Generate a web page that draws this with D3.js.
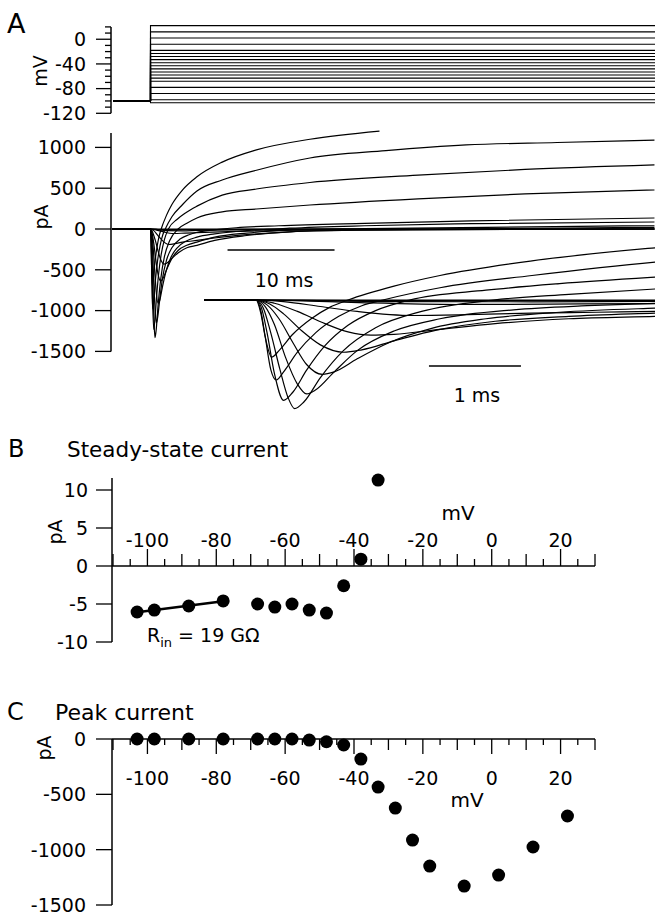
<!DOCTYPE html>
<html><head><meta charset="utf-8">
<script src="https://cdn.jsdelivr.net/npm/d3@7"></script>
<style>
body{margin:0;background:#fff}
svg{display:block}
text{font-family:"DejaVu Sans",Verdana,sans-serif;fill:#000}
</style>
</head><body>
<svg id="c" width="655" height="915"></svg>
<script>
// ---------------- DATA ----------------
// Voltage steps (mV) used in the protocol and in panel C
const stepVoltages = [-103,-98,-88,-78,-68,-63,-58,-53,-48,-43,-38,-33,-28,-23,-18,-8,2,12,22];
const holdingVoltage = -100;
// Panel C: peak current (pA) at each step voltage
const peakCurrent = [0,0,0,0,0,0,0,-10,-25,-54,-181,-434,-624,-913,-1148,-1329,-1230,-976,-696];
// Panel B: steady-state current (pA)
const steadyVoltages = [-103,-98,-88,-78,-68,-63,-58,-53,-48,-43,-38,-33];
const steadyCurrent = [-6.05,-5.8,-5.26,-4.6,-5.0,-5.4,-5.0,-5.8,-6.2,-2.6,0.9,11.3];
const fitVoltages = [-103,-98,-88,-78];   // points used for the R_in fit line

// Tick labels
const vTickLabels = [0,-40,-80,-120];
const iTickLabels = [1000,500,0,-500,-1000,-1500];
const bYTicks = [10,5,0,-5,-10];
const cYTicks = [0,-500,-1000,-1500];
const ivXTickLabels = [-100,-80,-60,-40,-20,0,20];

// Current traces: [time (ms), current (pA)]
const traceFlat   = [[-3.6,0],[47.1,0]];
const trace_m53 = [[-3.6,0],[0,0],[1,-8],[5,-6],[15,-2],[47.1,0]];
const trace_m48 = [[-3.6,0],[0,0],[0.5,-5],[1.5,-20],[3,-22],[4.34,-18],[8,-10],[15,-3],[47.1,0]];
const trace_m43 = [[-3.6,0],[0,0],[0.5,-10],[1.2,-35],[2.2,-55],[3.2,-50],[4.34,-45],[8,-30],[15,-10],[47.1,0]];
const trace_m38 = [[-3.6,0],[0,0],[0.3,-20],[0.7,-80],[1.1,-140],[1.7,-190],[2.3,-180],[3.0,-160],[3.7,-150],[4.34,-140],[6,-110],[9,-70],[13,-35],[20,-15],[47.1,0]];
const trace_m33 = [[-3.6,0],[0,0],[0.2,-40],[0.45,-140],[0.75,-290],[1.0,-390],[1.25,-430],[1.5,-420],[2.0,-360],[2.6,-290],[3.4,-230],[4.34,-200],[6,-140],[9,-80],[13,-35],[20,-10],[47.1,20]];
const trace_m28 = [[-3.6,0],[0,0],[0.15,-50],[0.3,-170],[0.5,-380],[0.7,-550],[0.95,-640],[1.15,-610],[1.5,-500],[2.0,-360],[2.6,-260],[3.4,-200],[4.34,-160],[6,-100],[9,-50],[13,-15],[20,5],[47.1,40]];
const trace_m23 = [[-3.6,0],[0,0],[0.12,-60],[0.25,-230],[0.4,-520],[0.55,-790],[0.72,-910],[0.85,-880],[1.1,-720],[1.45,-520],[1.9,-350],[2.5,-230],[3.3,-150],[4.34,-100],[6,-60],[9,-20],[13,10],[20,40],[30,65],[47.1,86]];
const trace_m18 = [[-3.6,0],[0,0],[0.1,-80],[0.2,-300],[0.32,-700],[0.45,-1030],[0.55,-1150],[0.65,-1100],[0.85,-880],[1.1,-620],[1.5,-380],[2.0,-230],[2.8,-120],[3.6,-70],[4.34,-40],[6,-10],[8,15],[12,40],[20,70],[30,100],[47.1,135]];
const trace_m8  = [[-3.6,0],[0,0],[0.08,-100],[0.16,-400],[0.26,-850],[0.35,-1200],[0.42,-1330],[0.52,-1250],[0.7,-950],[0.95,-620],[1.3,-340],[1.8,-140],[2.58,0],[3.4,70],[4.34,135],[6.7,210],[9.9,245],[14.9,294],[25,370],[35,430],[47.1,478]];
const trace_p2  = [[-3.6,0],[0,0],[0.06,-100],[0.12,-400],[0.2,-900],[0.3,-1230],[0.4,-1130],[0.55,-860],[0.75,-560],[1.0,-310],[1.3,-130],[1.67,0],[2.5,120],[3.3,200],[4.34,280],[6.7,415],[9.9,490],[14.9,570],[25,660],[35,730],[47.1,785]];
const trace_p12 = [[-3.6,0],[0,0],[0.05,-120],[0.1,-450],[0.16,-850],[0.22,-980],[0.3,-880],[0.45,-640],[0.65,-400],[0.9,-200],[1.15,-70],[1.38,0],[2,150],[3,300],[4.34,465],[6.7,600],[9.9,720],[14.9,870],[22,960],[29.5,1030],[38,1060],[47.1,1090]];
const trace_p22 = [[-3.6,0],[0,0],[0.05,-150],[0.1,-450],[0.17,-700],[0.25,-620],[0.4,-420],[0.6,-230],[0.8,-90],[1.0,0],[1.5,170],[2.0,300],[3.0,480],[4.34,640],[6.7,820],[9.9,970],[14.9,1100],[21.4,1200]];

const currentTraces = [traceFlat, trace_m53, trace_m48, trace_m43, trace_m38, trace_m33, trace_m28,
  trace_m23, trace_m18, trace_m8, trace_p2, trace_p12, trace_p22];

// ---------------- DRAWING ----------------
const svg = d3.select('#c');
const W = 655;
const axisX = 111;

// Panel A scales
const tMain = d3.scaleLinear().domain([0, 10]).range([150.5, 257.5]);
const vY = d3.scaleLinear().domain([-120, 20]).range([113.3, 26.9]);
const iY = d3.scaleLinear().domain([-1500, 1000]).range([351.4, 147.4]);
const tIns = d3.scaleLinear().domain([0, 1]).range([256, 348]);
const iInsY = d3.scaleLinear().domain([0, -1350]).range([300, 410.2]);

function txt(g, x, y, s, size, anchor) {
  return g.append('text').attr('x', x).attr('y', y).attr('font-size', size)
    .attr('text-anchor', anchor || 'start').text(s);
}
function rotTxt(g, x, y, s, size) {
  return g.append('text').attr('transform', `translate(${x},${y}) rotate(-90)`)
    .attr('font-size', size).attr('text-anchor', 'middle').text(s);
}
function ln(g, x1, y1, x2, y2, w) {
  return g.append('line').attr('x1', x1).attr('y1', y1).attr('x2', x2).attr('y2', y2)
    .attr('stroke', '#000').attr('stroke-width', w || 1.5);
}

// ---- Panel A: voltage protocol ----
const gA = svg.append('g');
txt(gA, 7, 33, 'A', 27);
ln(gA, axisX, vY(-120), axisX, vY(20));
d3.range(-120, 21, 10).forEach(v => {
  const major = v % 40 === 0;
  ln(gA, axisX - (major ? 15 : 6), vY(v), axisX, vY(v), 1.3);
});
vTickLabels.forEach(v => txt(gA, 86, vY(v), String(v), 19, 'end').attr('dy', '0.36em'));
rotTxt(gA, 47, 71, 'mV', 19);

const vLine = v => `M${axisX + 2},${vY(holdingVoltage)}H${tMain(0)}V${vY(v)}H${W}`;
gA.selectAll('path.v').data(stepVoltages).enter().append('path')
  .attr('d', vLine).attr('fill', 'none').attr('stroke', '#000').attr('stroke-width', 1.1);

// ---- Panel A: current traces ----
ln(gA, axisX, iY(-1500), axisX, 133);
iTickLabels.forEach(v => {
  ln(gA, axisX - 16, iY(v), axisX, iY(v), 1.3);
  txt(gA, 86, iY(v), String(v), 19, 'end').attr('dy', '0.36em');
});
rotTxt(gA, 48, 217, 'pA', 19);

const mainLine = d3.line().x(d => tMain(d[0])).y(d => iY(d[1])).curve(d3.curveMonotoneX);
gA.selectAll('path.m').data(currentTraces).enter().append('path')
  .attr('d', mainLine).attr('fill', 'none').attr('stroke', '#000').attr('stroke-width', 1.2);

// 10 ms scale bar
const barY = iY(-258);
ln(gA, tMain(7.2), barY, tMain(17.2), barY, 1.6);
txt(gA, (tMain(7.2) + tMain(17.2)) / 2 + 3, 287, '10 ms', 19, 'middle');

// ---- Inset: expanded time scale ----
svg.append('clipPath').attr('id', 'insClip').append('rect')
  .attr('x', 204).attr('y', 0).attr('width', W - 204).attr('height', 915);
const insLine = d3.line().x(d => tIns(d[0])).y(d => iInsY(d[1])).curve(d3.curveMonotoneX);
gA.append('g').attr('clip-path', 'url(#insClip)')
  .selectAll('path').data(currentTraces).enter().append('path')
  .attr('d', insLine).attr('fill', 'none').attr('stroke', '#000').attr('stroke-width', 1.2);
const bar2Y = iInsY(-809);
ln(gA, tIns(1.88), bar2Y, tIns(2.88), bar2Y, 1.6);
txt(gA, (tIns(1.88) + tIns(2.88)) / 2 + 2, 402, '1 ms', 19, 'middle');

// ---- Panel B ----
const gB = svg.append('g');
const xIV = d3.scaleLinear().domain([-110, 30]).range([113, 595]);
const yB = d3.scaleLinear().domain([-10, 10]).range([642, 490]);
txt(gB, 8, 457, 'B', 24);
txt(gB, 67, 457, 'Steady-state current', 21.5);
ln(gB, 112, yB(-10), 112, 478);
bYTicks.forEach(v => {
  ln(gB, 96, yB(v), 112, yB(v), 1.3);
  txt(gB, 88, yB(v), String(v), 19, 'end').attr('dy', '0.36em');
});
rotTxt(gB, 62, 532, 'pA', 19);
ln(gB, 112, yB(0), xIV(30), yB(0));
d3.range(-110, 31, 5).forEach(v => {
  const len = v % 20 === 0 ? 17 : (v % 10 === 0 ? 12 : 7);
  ln(gB, xIV(v), yB(0), xIV(v), yB(0) - len, 1.3);
});
ivXTickLabels.forEach(v => txt(gB, xIV(v), 547, String(v), 19, 'middle'));
txt(gB, 458, 520, 'mV', 20, 'middle');

// fit line (least squares through the fit points)
const fitPts = fitVoltages.map(v => [v, steadyCurrent[steadyVoltages.indexOf(v)]]);
const mx = d3.mean(fitPts, d => d[0]), my = d3.mean(fitPts, d => d[1]);
const slope = d3.sum(fitPts, d => (d[0] - mx) * (d[1] - my)) / d3.sum(fitPts, d => (d[0] - mx) ** 2);
const fx = v => my + slope * (v - mx);
const v0 = fitVoltages[0], v1 = fitVoltages[fitVoltages.length - 1];
ln(gB, xIV(v0), yB(fx(v0)), xIV(v1), yB(fx(v1)), 2.6);

gB.selectAll('circle').data(steadyVoltages).enter().append('circle')
  .attr('cx', d => xIV(d)).attr('cy', (d, i) => yB(steadyCurrent[i])).attr('r', 6.5).attr('fill', '#000');

const rin = gB.append('text').attr('x', 147).attr('y', 642).attr('font-size', 19);
rin.append('tspan').text('R');
rin.append('tspan').attr('font-size', 13).attr('dy', 5).text('in');
rin.append('tspan').attr('dy', -5).text(' = 19 GΩ');

// ---- Panel C ----
const gC = svg.append('g');
const yC = d3.scaleLinear().domain([-1500, 0]).range([905, 739]);
txt(gC, 7, 720, 'C', 24);
txt(gC, 55, 720, 'Peak current', 22);
ln(gC, 112, yC(0), 112, yC(-1500));
cYTicks.forEach(v => {
  ln(gC, 96, yC(v), 112, yC(v), 1.3);
  txt(gC, 86, yC(v), String(v), 19, 'end').attr('dy', '0.36em');
});
rotTxt(gC, 51, 748, 'pA', 19);
ln(gC, 112, yC(0), xIV(30), yC(0));
d3.range(-110, 31, 5).forEach(v => {
  const len = v % 20 === 0 ? 15 : (v % 10 === 0 ? 11 : 6);
  ln(gC, xIV(v), yC(0), xIV(v), yC(0) + len, 1.3);
});
ivXTickLabels.forEach(v => txt(gC, xIV(v), 785, String(v), 19, 'middle'));
txt(gC, 467, 807, 'mV', 20, 'middle');
gC.selectAll('circle').data(stepVoltages).enter().append('circle')
  .attr('cx', d => xIV(d)).attr('cy', (d, i) => yC(peakCurrent[i])).attr('r', 6.5).attr('fill', '#000');
</script>
</body></html>
